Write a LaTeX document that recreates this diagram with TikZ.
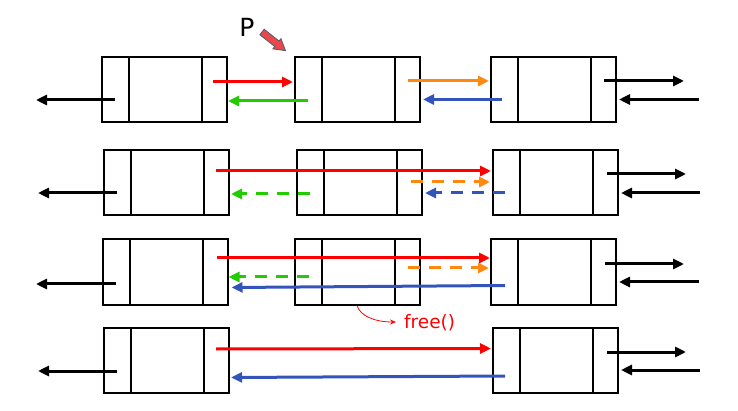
\documentclass[tikz,border=0pt]{standalone}
\usepackage{fontspec}
\setmainfont{DejaVu Sans}
\usetikzlibrary{arrows.meta,calc}
\definecolor{myred}{RGB}{255,0,0}
\definecolor{mygreen}{RGB}{34,204,0}
\definecolor{myorange}{RGB}{255,136,17}
\definecolor{myblue}{RGB}{51,85,187}
\definecolor{pfill}{RGB}{232,72,72}
\definecolor{pline}{RGB}{80,90,120}
\newcommand{\celldiv}[1]{%
  \draw[divline] ([xshift=27pt]#1.north west) -- ([xshift=27pt]#1.south west);
  \draw[divline] ([xshift=-25pt]#1.north east) -- ([xshift=-25pt]#1.south east);}
\begin{document}
\begin{tikzpicture}[x=1pt,y=-1pt,
  cell/.style={draw=black, line width=2pt, minimum width=125pt, minimum height=65pt, inner sep=0pt, outer sep=0pt},
  divline/.style={line width=2pt, black},
  ptr/.style={line width=3pt, -{Triangle[length=11pt,width=10pt]}},
  dsh/.style={ptr, dash pattern=on 12pt off 9pt},
]
\useasboundingbox (0,0) rectangle (738,411);
% boxes
\node[cell] (A1) at (164.5,89.5) {};
\node[cell] (B1) at (357.5,89.5) {};
\node[cell] (C1) at (553.5,89.5) {};
\node[cell] (A2) at (166.5,182.5) {};
\node[cell] (B2) at (359.5,182.5) {};
\node[cell] (C2) at (555.5,182.5) {};
\node[cell] (A3) at (165,272) {};
\node[cell] (B3) at (357.5,272) {};
\node[cell] (C3) at (553.5,272) {};
\node[cell] (A4) at (166.5,360.5) {};
\node[cell] (C4) at (555.5,360.5) {};
\celldiv{A1}\celldiv{B1}\celldiv{C1}
\celldiv{A2}\celldiv{B2}\celldiv{C2}
\celldiv{A3}\celldiv{B3}\celldiv{C3}
\celldiv{A4}\celldiv{C4}
% free ends
\coordinate (L1) at (36,100);
\coordinate (R1a) at (684,81);
\coordinate (R1b) at (699,99.5);
\coordinate (L2) at (38,193);
\coordinate (R2a) at (686,174);
\coordinate (R2b) at (700,193);
\coordinate (L3) at (36,284);
\coordinate (R3a) at (684,264);
\coordinate (R3b) at (699,282);
\coordinate (L4) at (38,371);
\coordinate (R4a) at (686,352);
\coordinate (R4b) at (700,370);
% row 1
\draw[ptr,myred] ($(A1.east)+(-14,-7.5)$) -- ($(B1.west)+(-2,-7.5)$);
\draw[ptr,mygreen] ($(B1.west)+(13,11.5)$) -- ($(A1.east)+(1,11.5)$);
\draw[ptr,myorange] ($(B1.east)+(-12,-8.5)$) -- ($(C1.west)+(-2,-8.5)$);
\draw[ptr,myblue] ($(C1.west)+(11,10)$) -- ($(B1.east)+(3,10)$);
\draw[ptr,black] ($(A1.west)+(13,10.5)$) -- (L1);
\draw[ptr,black] ($(C1.east)+(-12,-8.5)$) -- (R1a);
\draw[ptr,black] (R1b) -- ($(C1.east)+(3,10)$);
% row 2
\draw[ptr,myred] ($(A2.east)+(-13,-11.5)$) -- ($(C2.west)+(-2,-11.5)$);
\draw[dsh,myorange] ($(B2.east)+(-11,-0.5)$) -- ($(C2.west)+(-3,-0.5)$);
\draw[dsh,myblue] ($(C2.west)+(12,10.5)$) -- ($(B2.east)+(3,10.5)$);
\draw[dsh,mygreen] ($(B2.west)+(13,11.5)$) -- ($(A2.east)+(2,11.5)$);
\draw[ptr,black] ($(A2.west)+(13,10.5)$) -- (L2);
\draw[ptr,black] ($(C2.east)+(-11,-8.5)$) -- (R2a);
\draw[ptr,black] (R2b) -- ($(C2.east)+(3,10.5)$);
% row 3
\draw[ptr,myred] ($(A3.east)+(-11,-14)$) -- ($(C3.west)+(-1,-14)$);
\draw[dsh,myorange] ($(B3.east)+(-12,-4)$) -- ($(C3.west)+(-2,-4)$);
\draw[dsh,mygreen] ($(B3.west)+(14,5)$) -- ($(A3.east)+(1,5)$);
\draw[ptr,myblue] ($(C3.west)+(14,13.5)$) -- ($(A3.east)+(4,15.5)$);
\draw[ptr,black] ($(A3.west)+(13,12)$) -- (L3);
\draw[ptr,black] ($(C3.east)+(-11,-8)$) -- (R3a);
\draw[ptr,black] (R3b) -- ($(C3.east)+(3,10)$);
% row 4
\draw[ptr,myred] ($(A4.east)+(-13,-11.5)$) -- ($(C4.west)+(-2,-12)$);
\draw[ptr,myblue] ($(C4.west)+(12,15.5)$) -- ($(A4.east)+(2,17)$);
\draw[ptr,black] ($(A4.west)+(13,10.5)$) -- (L4);
\draw[ptr,black] ($(C4.east)+(-11,-8.5)$) -- (R4a);
\draw[ptr,black] (R4b) -- ($(C4.east)+(3,9.5)$);
% free()
\node[text=myred, anchor=west, inner sep=0pt, font=\fontsize{18.5}{18.5}\selectfont] (free) at (404,323) {free()};
\draw[myred, line width=0.8pt, -{Stealth[length=6pt,width=5pt]}] ($(B3.south)+(-0.5,1)$) .. controls (360,316) and (375,322) .. ($(free.west)+(-8,-1)$);
% P pointer
\node[inner sep=0pt, font=\fontsize{25}{25}\selectfont] (P) at (247,27) {P};
\begin{scope}[shift={(262,32)}, rotate=-38.4]
  \draw[pline, line width=0.8pt, fill=pfill] (0,-3.5) -- (19,-3.5) -- (19,-6.5) -- (30,0) -- (19,6.5) -- (19,3.5) -- (0,3.5) -- cycle;
\end{scope}
\end{tikzpicture}
\end{document}
